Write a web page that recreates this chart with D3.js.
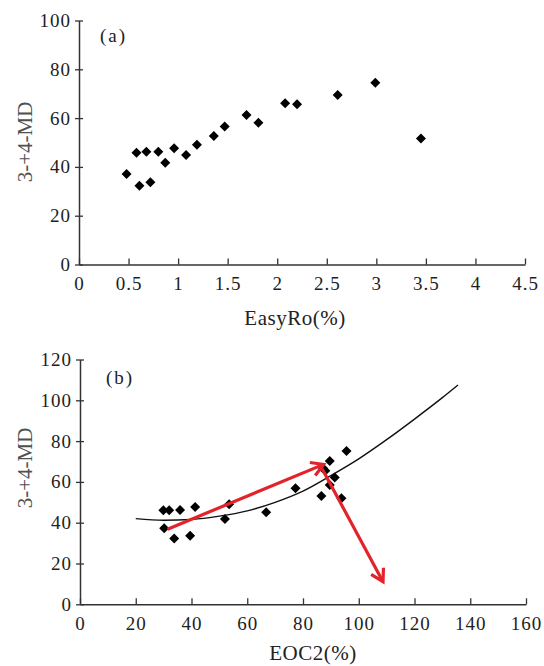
<!DOCTYPE html>
<html>
<head>
<meta charset="utf-8">
<script src="https://cdn.jsdelivr.net/npm/d3@7/dist/d3.min.js"></script>
<style>
body{margin:0;background:#fff}
text{font-family:"Liberation Serif","Times New Roman",serif}
</style>
</head>
<body>
<div id="chart"></div>
<script>
// panel (a) data
const easyRo = [0.48,0.58,0.61,0.68,0.72,0.80,0.87,0.96,1.08,1.19,1.36,1.47,1.69,1.81,2.08,2.20,2.61,2.99,3.45]
const mdA = [37.1,45.8,32.3,46.2,33.7,46.2,41.7,47.6,44.9,49.1,52.7,56.6,61.3,58.1,66.1,65.7,69.5,74.5,51.6]
const xTicksA = [0,0.5,1,1.5,2,2.5,3,3.5,4,4.5]
const yTicksA = [0,20,40,60,80,100]

// panel (b) data
const eoc2 = [29.9,32.0,35.9,41.3,30.2,33.8,39.5,52.0,53.5,66.8,77.3,86.6,93.8,89.6,87.2,88.0,91.4,89.6,95.6]
const mdB = [46.1,46.1,46.2,47.7,37.3,32.2,33.6,41.8,49.0,45.1,56.9,53.1,52.0,70.2,66.7,65.5,62.1,58.5,75.1]
const fitX = [20,30,40,50,60,70,80,90,100,110,120,130,135.6]
const fitY = [42.0,41.2,41.6,43.2,45.8,50.0,55.5,63.1,71.3,80.7,90.8,101.3,107.5]
const arrowUp = [[31.4,36.8],[87.4,68.6]]
const arrowDown = [[86.8,66.6],[108.7,11.1]]
const xTicksB = [0,20,40,60,80,100,120,140,160]
const yTicksB = [0,20,40,60,80,100,120]

const W = 544, H = 666
const red = "#e3232a"

const svg = d3.select("#chart")
    .append("svg")
    .attr("width",W)
    .attr("height",H)

svg.append("rect").attr("width",W).attr("height",H).attr("fill","#fff")

svg.append("defs").append("marker")
    .attr("id","head")
    .attr("markerUnits","userSpaceOnUse")
    .attr("viewBox","-16 -10 20 20")
    .attr("refX",0).attr("refY",0)
    .attr("markerWidth",20).attr("markerHeight",20)
    .attr("orient","auto")
    .append("path")
    .attr("d","M-12,-7L0,0L-12,7")
    .attr("fill","none")
    .attr("stroke",red)
    .attr("stroke-width",3.2)

function drawAxes(x, y, xt, yt){
    const gx = svg.append("g")
        .attr("transform",`translate(0,${y.range()[0]})`)
        .call(d3.axisBottom(x).tickValues(xt).tickFormat(d=>d).tickSize(-6).tickSizeOuter(0).tickPadding(12))
    const gy = svg.append("g")
        .attr("transform",`translate(${x.range()[0]},0)`)
        .call(d3.axisLeft(y).tickValues(yt).tickFormat(d=>d).tickSize(0).tickSizeOuter(0).tickPadding(8))

    // y ticks cross the axis line
    gy.selectAll(".tick").append("line")
        .attr("x1",-4).attr("x2",4)

    for (const g of [gx,gy]){
        g.select(".domain").attr("stroke","#333").attr("stroke-width",1.5)
        g.selectAll(".tick line").attr("stroke","#333").attr("stroke-width",1.3)
        g.selectAll(".tick text")
            .attr("fill","#1e1e1e")
            .style("font-size","19px")
            .style("letter-spacing","1px")
            .style("font-family",'"Liberation Serif","Times New Roman",serif')
    }
}

function yTitle(cy){
    svg.append("text")
        .attr("transform",`translate(25,${cy}) rotate(-90)`)
        .attr("text-anchor","middle")
        .attr("dy","0.35em")
        .attr("fill","#505050")
        .style("font-size","21px")
        .text("3-+4-MD")
}

const diamond = d3.symbol().type(d3.symbolSquare).size(50)

// ---- panel (a)
const xA = d3.scaleLinear().domain([0,4.5]).range([79,525])
const yA = d3.scaleLinear().domain([0,100]).range([264.5,20.5])

drawAxes(xA, yA, xTicksA, yTicksA)

svg.append("g")
    .selectAll("path")
    .data(easyRo)
    .join("path")
    .attr("d",diamond)
    .attr("transform",(d,i)=>`translate(${xA(d)},${yA(mdA[i])}) rotate(45)`)
    .attr("fill","#000")

svg.append("text")
    .attr("x",100).attr("y",35).attr("dy","0.35em")
    .style("font-size","19px").style("letter-spacing","2px")
    .attr("fill","#222")
    .text("(a)")

svg.append("text")
    .attr("x",295).attr("y",318).attr("dy","0.35em")
    .attr("text-anchor","middle")
    .attr("fill","#222")
    .style("font-size","21px")
    .style("letter-spacing","0.5px")
    .text("EasyRo(%)")

yTitle(142)

// ---- panel (b)
const xB = d3.scaleLinear().domain([0,160]).range([80,526])
const yB = d3.scaleLinear().domain([0,120]).range([604.3,359.5])

drawAxes(xB, yB, xTicksB, yTicksB)

const fitLine = d3.line()
    .x(d=>xB(d[0]))
    .y(d=>yB(d[1]))
    .curve(d3.curveMonotoneX)

svg.append("path")
    .datum(fitX.map((v,i)=>[v,fitY[i]]))
    .attr("d",fitLine)
    .attr("fill","none")
    .attr("stroke","#111")
    .attr("stroke-width",1.4)

svg.append("g")
    .selectAll("path")
    .data(eoc2)
    .join("path")
    .attr("d",diamond)
    .attr("transform",(d,i)=>`translate(${xB(d)},${yB(mdB[i])}) rotate(45)`)
    .attr("fill","#000")

const straight = d3.line().x(d=>xB(d[0])).y(d=>yB(d[1]))

svg.append("g")
    .selectAll("path")
    .data([arrowUp,arrowDown])
    .join("path")
    .attr("d",straight)
    .attr("fill","none")
    .attr("stroke",red)
    .attr("stroke-width",3.2)
    .attr("marker-end","url(#head)")

svg.append("text")
    .attr("x",106).attr("y",377).attr("dy","0.35em")
    .style("font-size","19px").style("letter-spacing","2px")
    .attr("fill","#222")
    .text("(b)")

svg.append("text")
    .attr("x",313).attr("y",653).attr("dy","0.35em")
    .attr("text-anchor","middle")
    .attr("fill","#222")
    .style("font-size","21px")
    .style("letter-spacing","0.5px")
    .text("EOC2(%)")

yTitle(468)
</script>
</body>
</html>
